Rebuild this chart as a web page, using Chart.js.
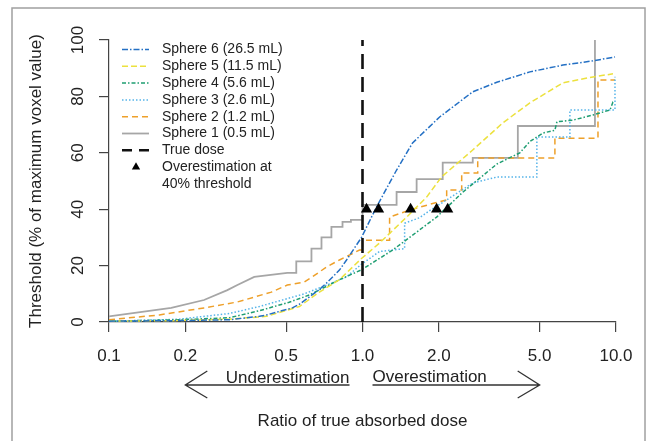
<!DOCTYPE html>
<html>
<head>
<meta charset="utf-8">
<script src="https://cdn.jsdelivr.net/npm/chart.js@4.4.1/dist/chart.umd.min.js"></script>
<style>
  html, body { margin: 0; padding: 0; background: #fff; }
  canvas { display: block; }
</style>
</head>
<body>
<canvas id="doseChart" width="648" height="441"></canvas>
<script>
// DATA
let xTicks = [0.1, 0.2, 0.5, 1, 2, 5, 10];
let yTicks = [0, 20, 40, 60, 80, 100];

let sphere6X = [0.1, 0.189, 0.298, 0.392, 0.418, 0.529, 0.564, 0.676, 0.721, 0.811, 0.865, 0.991, 1.136, 1.363, 1.576, 2.015, 2.72, 3.386, 4.573, 6.173, 8.111, 9.908];
let sphere6Y = [0.3, 0.5, 0.8, 2, 2.5, 5, 6.3, 11.5, 13.8, 18.4, 22, 30, 40.8, 53.9, 63.5, 72.7, 81.6, 85, 88.7, 91.1, 92.6, 94];

let sphere5X = [0.1, 0.189, 0.298, 0.418, 0.564, 0.676, 0.811, 0.991, 1.167, 1.493, 1.791, 2.053, 2.722, 3.576, 4.573, 6.173, 8.111, 9.73];
let sphere5Y = [0.3, 0.5, 1, 2, 5.5, 10.6, 15, 22.5, 28, 37.2, 44.3, 51.5, 61, 70.6, 77.7, 84.8, 86.9, 88];

let sphere4X = [0.1, 0.189, 0.298, 0.392, 0.514, 0.618, 0.811, 0.991, 1.314, 1.534, 1.961, 2.485, 2.901, 3.386, 4.175, 4.573, 5.146, 5.741, 5.847, 6.761, 8.111, 9.47, 9.73, 9.908];
let sphere4Y = [0.3, 0.8, 1.5, 4, 7, 9.6, 15, 18.5, 25.5, 30, 37.2, 46, 51, 56, 60, 64, 67, 68, 71, 71.6, 73.4, 75.2, 78, 78];

let sphere3X = [0.1, 0.189, 0.298, 0.392, 0.59, 0.741, 0.865, 0.991, 1.167, 1.466, 1.466, 1.68, 1.84, 2.148, 2.722, 3.386, 4.873, 4.873, 6.579, 6.579, 9.908, 9.908];
let sphere3Y = [0.2, 1, 3, 5.5, 10, 13.5, 16, 20.5, 25, 26, 35, 37, 39.5, 43.3, 49.3, 51.4, 51.4, 65.6, 65.6, 75.2, 75.2, 87];

let sphere2X = [0.1, 0.158, 0.237, 0.321, 0.437, 0.505, 0.59, 0.634, 0.721, 0.811, 0.973, 1.0, 1.0, 1.279, 1.279, 1.534, 1.891, 2.148, 2.148, 2.462, 2.462, 2.848, 2.848, 5.741, 5.741, 8.49, 8.49, 9.908];
let sphere2Y = [0.8, 2.5, 5, 7.1, 10.6, 13.1, 14.2, 16, 19.5, 22, 25.5, 25.5, 29, 29, 37.2, 39.7, 42, 43.3, 46.8, 46.8, 52.8, 52.8, 58.2, 58.2, 65.2, 65.2, 85.8, 85.8];

let sphere1X = [0.1, 0.176, 0.237, 0.293, 0.321, 0.374, 0.505, 0.548, 0.548, 0.629, 0.629, 0.689, 0.689, 0.754, 0.754, 0.834, 0.834, 0.9, 0.9, 1.0, 1.0, 1.363, 1.363, 1.635, 1.635, 2.072, 2.072, 2.722, 2.722, 4.1, 4.1, 8.26, 8.26];
let sphere1Y = [2, 5, 7.8, 11.3, 13.1, 16, 17.4, 17.4, 21.5, 21.5, 26, 26, 30, 30, 33.7, 33.7, 35.5, 35.5, 36.2, 36.2, 41.5, 41.5, 46.1, 46.1, 50.7, 50.7, 56.5, 56.5, 58.2, 58.2, 69.5, 69.5, 100];

let trueDoseX = [1, 1];
let trueDoseY = [0, 100];

let overX = [1.037, 1.157, 1.548, 1.961, 2.168];
let overY = [40, 40, 40, 40, 40];

let sphereLabels = ['Sphere 6 (26.5 mL)', 'Sphere 5 (11.5 mL)', 'Sphere 4 (5.6 mL)', 'Sphere 3 (2.6 mL)', 'Sphere 2 (1.2 mL)', 'Sphere 1 (0.5 mL)'];
let sphereColors = ['#2470c4', '#ece13e', '#1f9e72', '#56b4e9', '#eea02a', '#a6a6a6'];
let sphereDash = [[6, 2, 1.5, 2], [6, 3], [4, 2, 1.5, 2], [1.5, 2], [6, 4], []];

function toPoints(xs, ys) {
    return xs.map(function (x, i) { return { x: x, y: ys[i] }; });
}

let sphereXs = [sphere6X, sphere5X, sphere4X, sphere3X, sphere2X, sphere1X];
let sphereYs = [sphere6Y, sphere5Y, sphere4Y, sphere3Y, sphere2Y, sphere1Y];

let datasets = [
    {
        label: 'Overestimation at 40% threshold',
        data: toPoints(overX, overY),
        showLine: false,
        pointStyle: 'triangle',
        pointRadius: 6.5,
        backgroundColor: '#000',
        borderColor: '#000',
        borderWidth: 0
    },
    {
        label: 'True dose',
        data: toPoints(trueDoseX, trueDoseY),
        showLine: true,
        borderColor: '#111',
        borderWidth: 2.6,
        borderDash: [15, 8],
        pointRadius: 0
    }
];
for (let i = 0; i < sphereLabels.length; i++) {
    datasets.push({
        label: sphereLabels[i],
        data: toPoints(sphereXs[i], sphereYs[i]),
        showLine: true,
        borderColor: sphereColors[i],
        borderWidth: i === 5 ? 1.8 : 1.5,
        borderDash: sphereDash[i],
        pointRadius: 0,
        tension: 0
    });
}

let font = '"Liberation Sans", Arial, sans-serif';
let textColor = '#222';

let decor = {
    id: 'decor',
    beforeDraw: function (chart) {
        let ctx = chart.ctx;
        ctx.save();
        ctx.fillStyle = '#fff';
        ctx.fillRect(0, 0, chart.width, chart.height);
        ctx.strokeStyle = '#a0a0a0';
        ctx.lineWidth = 1.5;
        ctx.strokeRect(12, 8, 633, 460);
        ctx.restore();
    },
    afterDraw: function (chart) {
        let ctx = chart.ctx;
        let xs = chart.scales.x, ys = chart.scales.y;
        let area = chart.chartArea;
        ctx.save();
        ctx.fillStyle = textColor;

        // x tick labels
        ctx.font = '17px ' + font;
        ctx.textAlign = 'center';
        ctx.textBaseline = 'alphabetic';
        xTicks.forEach(function (v) {
            ctx.fillText(v.toFixed(1), xs.getPixelForValue(v), 361);
        });

        // y tick labels (rotated)
        yTicks.forEach(function (v) {
            ctx.save();
            ctx.translate(83, ys.getPixelForValue(v));
            ctx.rotate(-Math.PI / 2);
            ctx.fillText(String(v), 0, 0);
            ctx.restore();
        });

        // axis titles
        ctx.fillText('Ratio of true absorbed dose', (area.left + area.right) / 2, 426);
        ctx.save();
        ctx.translate(41, (area.top + area.bottom) / 2);
        ctx.rotate(-Math.PI / 2);
        ctx.fillText('Threshold (% of maximum voxel value)', 0, 0);
        ctx.restore();

        // arrows
        let x1 = xs.getPixelForValue(1);
        let tipL = xs.getPixelForValue(0.2), tipR = xs.getPixelForValue(5);
        let ay = 385;
        ctx.strokeStyle = '#333';
        ctx.lineWidth = 1.3;
        ctx.beginPath();
        ctx.moveTo(x1 - 13, ay); ctx.lineTo(tipL, ay);
        ctx.moveTo(tipL + 22, ay - 14); ctx.lineTo(tipL, ay); ctx.lineTo(tipL + 22, ay + 13);
        ctx.moveTo(x1 + 10, ay); ctx.lineTo(tipR, ay);
        ctx.moveTo(tipR - 22, ay - 14); ctx.lineTo(tipR, ay); ctx.lineTo(tipR - 22, ay + 13);
        ctx.stroke();
        ctx.textAlign = 'right';
        ctx.fillText('Underestimation', x1 - 13, 383);
        ctx.textAlign = 'left';
        ctx.fillText('Overestimation', x1 + 10, 382);

        // legend
        ctx.font = '14px ' + font;
        ctx.textBaseline = 'middle';
        let ly = 49.5, step = 16.8, lx0 = 122, lx1 = 149, tx = 162;
        for (let i = 0; i < sphereLabels.length; i++) {
            let ds = chart.data.datasets[i + 2];
            let y = ly + i * step;
            ctx.strokeStyle = ds.borderColor;
            ctx.lineWidth = ds.borderWidth;
            ctx.setLineDash(ds.borderDash);
            ctx.beginPath(); ctx.moveTo(lx0, y); ctx.lineTo(lx1, y); ctx.stroke();
            ctx.fillText(sphereLabels[i], tx, y);
        }
        let yd = ly + 6 * step;
        ctx.strokeStyle = '#111';
        ctx.lineWidth = 2.6;
        ctx.setLineDash([10, 7]);
        ctx.beginPath(); ctx.moveTo(lx0, yd); ctx.lineTo(lx1 + 1, yd); ctx.stroke();
        ctx.setLineDash([]);
        ctx.fillText('True dose', tx, yd);
        let yt = ly + 7 * step, r = 4.8, cx = 136;
        ctx.fillStyle = '#000';
        ctx.beginPath();
        ctx.moveTo(cx, yt - r);
        ctx.lineTo(cx + r * 0.866, yt + r / 2);
        ctx.lineTo(cx - r * 0.866, yt + r / 2);
        ctx.closePath(); ctx.fill();
        ctx.fillStyle = textColor;
        ctx.fillText('Overestimation at', tx, yt);
        ctx.fillText('40% threshold', tx, yt + step);
        ctx.restore();
    }
};

let axisGrid = { drawOnChartArea: false, drawTicks: true, tickLength: 10, color: '#444', lineWidth: 1.2 };
let axisBorder = { display: true, color: '#444', width: 1.2 };

let chart = new Chart(document.getElementById('doseChart').getContext('2d'), {
    type: 'scatter',
    data: { datasets: datasets },
    options: {
        responsive: false,
        animation: false,
        devicePixelRatio: 1,
        layout: { padding: { top: 40, right: 32, left: 0, bottom: 0 } },
        plugins: { legend: { display: false }, tooltip: { enabled: false } },
        scales: {
            x: {
                type: 'logarithmic',
                min: 0.1,
                max: 10,
                afterBuildTicks: function (s) { s.ticks = xTicks.map(function (v) { return { value: v }; }); },
                afterFit: function (s) { s.height = 119; },
                ticks: { display: false },
                grid: axisGrid,
                border: axisBorder
            },
            y: {
                type: 'linear',
                min: 0,
                max: 100,
                afterBuildTicks: function (s) { s.ticks = yTicks.map(function (v) { return { value: v }; }); },
                afterFit: function (s) { s.width = 109; },
                ticks: { display: false },
                grid: axisGrid,
                border: axisBorder
            }
        }
    },
    plugins: [decor]
});
</script>
</body>
</html>
